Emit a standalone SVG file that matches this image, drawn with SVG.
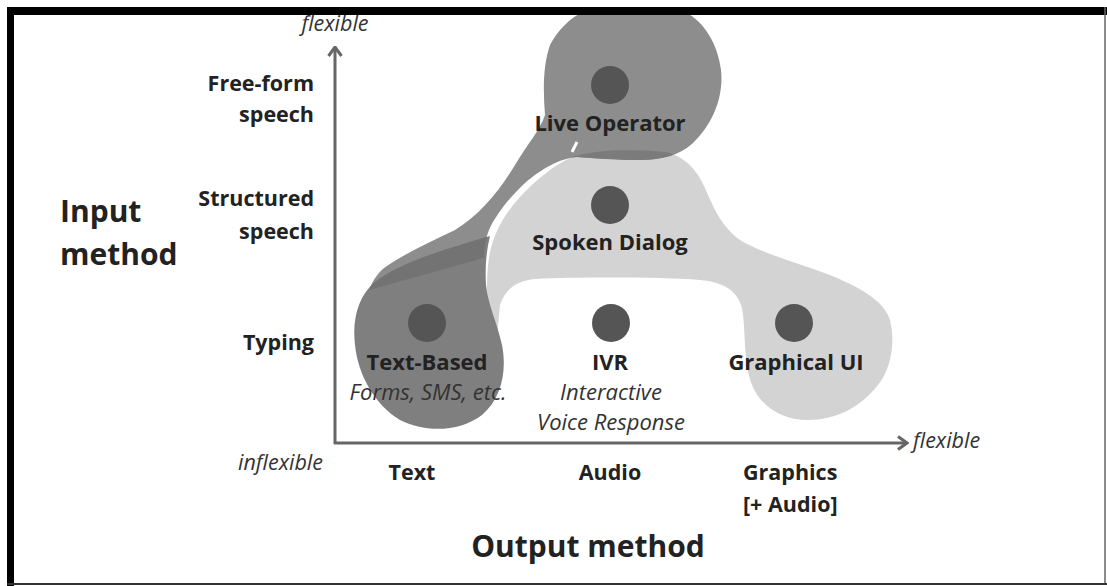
<svg xmlns="http://www.w3.org/2000/svg" width="1107" height="586" viewBox="0 0 1107 586">
<style>
.b{font-family:"Open Sans","Noto Sans",sans-serif;font-weight:bold;fill:#222}
.i{font-family:"Open Sans","Noto Sans",sans-serif;font-style:italic;fill:#333}
.lbl{font-size:21.5px}
.node{font-size:22px}
.big{font-size:30px}
.it{font-size:21.5px}
.sub{font-size:22px}
.dot{fill:#555}
.axis{stroke:#666;stroke-width:3;fill:none}
</style>
<defs>
<marker id="chev" markerUnits="userSpaceOnUse" viewBox="0 0 12 16" refX="10.5" refY="8" markerWidth="12" markerHeight="16" orient="auto">
<path d="M1.5,1.5 L10.5,8 L1.5,14.5" fill="none" stroke="#666" stroke-width="3" stroke-linejoin="miter"/>
</marker>
<path id="grayShape" d="M490,335 C486,300 486,272 490,252 C495,230 506,212 520,197 C535,181 552,166 572,157 C595,149 640,149 665,152 C685,156 697,170 705,188 C713,206 720,225 740,240 C765,255 800,263 835,277 C865,290 885,303 890,320 C896,345 890,370 878,385 C860,408 835,420 808,420 C780,420 760,405 752,385 C743,362 746,330 742,308 C738,292 725,282 700,280 C660,277 580,277 535,279 C515,281 505,290 500,305 L497,335 Z"/>
<path id="opShape" d="M583,12 L685,12 C705,22 718,45 721,70 C724,98 712,125 693,143 C680,155 662,160 640,160 C615,160 595,158 577,157 C560,158 540,170 525,183 C510,197 496,214 489,230 C485,240 484,250 484,258 L369,290 C372,282 377,274 384,268 C402,255 430,242 455,230 C480,215 500,190 515,165 C527,145 540,130 545,115 C543,90 543,65 550,45 C558,30 570,18 583,12 Z"/>
<path id="tbShape" d="M490,236 C450,248 400,262 375,282 C358,296 352,320 355,345 C358,375 375,405 400,420 C425,433 460,432 482,415 C502,398 507,370 502,345 C497,322 488,305 486,285 C485,268 486,252 490,236 Z"/>
<clipPath id="opClip"><use href="#opShape"/></clipPath>
<clipPath id="tbClip"><use href="#tbShape"/></clipPath>
</defs>
<rect x="0" y="0" width="1107" height="586" fill="#fff"/>
<g id="regions">
<use href="#grayShape" fill="#d3d3d3"/>
<use href="#opShape" fill="#8d8d8d"/>
<use href="#grayShape" fill="#7b7b7b" clip-path="url(#opClip)"/>
<use href="#tbShape" fill="#7f7f7f"/>
<use href="#opShape" fill="#737373" clip-path="url(#tbClip)"/>
<line x1="577" y1="142" x2="572" y2="152" stroke="#fff" stroke-width="3"/>
</g>
<g id="connectors">
<line class="axis" x1="335" y1="444" x2="335" y2="47" marker-end="url(#chev)"/>
<line class="axis" x1="334" y1="443" x2="907" y2="443" marker-end="url(#chev)"/>
</g>
<g id="node-live-operator">
<circle class="dot" cx="610" cy="85" r="19"/>
<text class="b node" x="610" y="131" text-anchor="middle">Live Operator</text>
</g>
<g id="node-spoken-dialog">
<circle class="dot" cx="610" cy="205" r="19"/>
<text class="b node" x="610" y="250" text-anchor="middle">Spoken Dialog</text>
</g>
<g id="node-text-based">
<circle class="dot" cx="427" cy="323" r="19"/>
<text class="b node" x="427" y="370" text-anchor="middle">Text-Based</text>
<text class="i sub" x="428" y="400" text-anchor="middle">Forms, SMS, etc.</text>
</g>
<g id="node-ivr">
<circle class="dot" cx="611" cy="323" r="19"/>
<text class="b node" x="610" y="370" text-anchor="middle">IVR</text>
<text class="i sub" x="611" y="400" text-anchor="middle">Interactive</text>
<text class="i sub" x="611" y="430" text-anchor="middle">Voice Response</text>
</g>
<g id="node-graphical-ui">
<circle class="dot" cx="794" cy="323" r="19"/>
<text class="b node" x="796" y="370" text-anchor="middle">Graphical UI</text>
</g>
<g id="axis-labels">
<text class="i it" x="335" y="31" text-anchor="middle">flexible</text>
<text class="i it" x="913" y="448">flexible</text>
<text class="i it" x="323" y="470" text-anchor="end">inflexible</text>
<text class="b lbl" x="314" y="91" text-anchor="end">Free-form</text>
<text class="b lbl" x="314" y="122" text-anchor="end">speech</text>
<text class="b lbl" x="314" y="206" text-anchor="end">Structured</text>
<text class="b lbl" x="314" y="239" text-anchor="end">speech</text>
<text class="b lbl" x="314" y="350" text-anchor="end">Typing</text>
<text class="b big" x="60" y="222">Input</text>
<text class="b big" x="60" y="265">method</text>
<text class="b lbl" x="412" y="480" text-anchor="middle">Text</text>
<text class="b lbl" x="610" y="480" text-anchor="middle">Audio</text>
<text class="b lbl" x="743" y="480">Graphics</text>
<text class="b lbl" x="743" y="512">[+ Audio]</text>
<text class="b big" x="588" y="557" text-anchor="middle">Output method</text>
</g>
<g id="frame">
<rect x="7" y="7" width="1100" height="8" fill="#000"/>
<rect x="7" y="7" width="7" height="579" fill="#000"/>
<line x1="1105" y1="7" x2="1105" y2="585" stroke="#666" stroke-width="1.5"/>
<line x1="7" y1="584" x2="1107" y2="584" stroke="#333" stroke-width="2"/>
</g>
</svg>
